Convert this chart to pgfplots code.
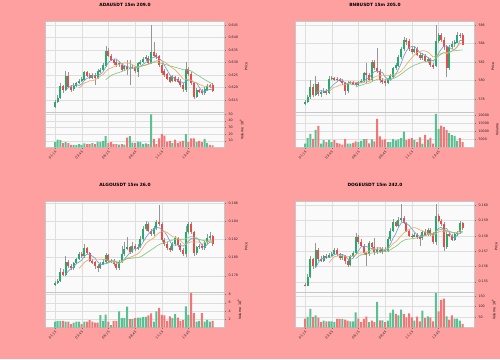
\documentclass[border=0pt]{standalone}
\usepackage{fontspec}
\setmainfont{DejaVu Sans}
\usepackage{pgfplots}
\pgfplotsset{compat=1.18}
\usepackage{pgfplotstable}

\definecolor{bgc}{RGB}{255,160,160}
\definecolor{axbg}{RGB}{250,250,250}
\definecolor{gridc}{RGB}{222,222,222}
\definecolor{upc}{RGB}{38,170,110}
\definecolor{dnc}{RGB}{239,72,72}
\definecolor{wickc}{RGB}{150,150,150}
\definecolor{maA}{RGB}{110,160,210}
\definecolor{maB}{RGB}{240,170,100}
\definecolor{maC}{RGB}{130,200,130}

\pgfplotstableread{
i o h l c v a b d
0 0.6123 0.6150 0.6119 0.6143 7.9 nan nan nan
1 0.6143 0.6170 0.6139 0.6157 11.9 nan nan nan
2 0.6157 0.6219 0.6153 0.6206 10.9 nan nan nan
3 0.6206 0.6210 0.6179 0.6190 6.4 nan nan nan
4 0.6190 0.6267 0.6187 0.6246 7.9 0.6188 nan nan
5 0.6246 0.6263 0.6197 0.6201 6.4 0.6200 nan nan
6 0.6201 0.6210 0.6183 0.6190 4.0 0.6207 nan nan
7 0.6193 0.6217 0.6187 0.6206 4.0 0.6207 nan nan
8 0.6206 0.6223 0.6201 0.6217 4.0 0.6212 nan nan
9 0.6217 0.6233 0.6213 0.6226 5.0 0.6208 0.6198 nan
10 0.6226 0.6241 0.6222 0.6233 4.0 0.6214 0.6207 nan
11 0.6230 0.6267 0.6227 0.6263 6.0 0.6229 0.6218 nan
12 0.6263 0.6267 0.6241 0.6246 5.0 0.6237 0.6222 nan
13 0.6249 0.6257 0.6233 0.6238 5.0 0.6241 0.6227 nan
14 0.6238 0.6259 0.6235 0.6251 6.4 0.6246 0.6227 nan
15 0.6251 0.6259 0.6210 0.6237 5.0 0.6247 0.6231 nan
16 0.6237 0.6273 0.6233 0.6267 8.9 0.6248 0.6238 nan
17 0.6265 0.6278 0.6259 0.6271 7.9 0.6253 0.6245 nan
18 0.6270 0.6297 0.6265 0.6289 9.9 0.6263 0.6252 nan
19 0.6286 0.6366 0.6283 0.6347 16.8 0.6282 0.6264 0.6231
20 0.6347 0.6357 0.6321 0.6326 6.9 0.6300 0.6274 0.6240
21 0.6326 0.6334 0.6305 0.6310 7.9 0.6309 0.6278 0.6248
22 0.6310 0.6315 0.6291 0.6297 5.0 0.6314 0.6283 0.6253
23 0.6302 0.6310 0.6283 0.6289 5.0 0.6314 0.6288 0.6257
24 0.6289 0.6303 0.6283 0.6297 4.4 0.6304 0.6293 0.6260
25 0.6291 0.6297 0.6265 0.6271 5.0 0.6293 0.6296 0.6264
26 0.6273 0.6290 0.6267 0.6285 4.4 0.6288 0.6298 0.6268
27 0.6285 0.6310 0.6250 0.6273 14.8 0.6283 0.6298 0.6272
28 0.6273 0.6310 0.6210 0.6279 16.8 0.6281 0.6297 0.6275
29 0.6278 0.6289 0.6273 0.6283 7.4 0.6278 0.6291 0.6278
30 0.6281 0.6286 0.6257 0.6265 6.4 0.6277 0.6285 0.6279
31 0.6262 0.6302 0.6243 0.6297 8.9 0.6279 0.6283 0.6281
32 0.6294 0.6310 0.6289 0.6303 7.9 0.6285 0.6284 0.6284
33 0.6301 0.6323 0.6297 0.6315 5.0 0.6293 0.6287 0.6288
34 0.6313 0.6330 0.6307 0.6321 6.0 0.6300 0.6289 0.6291
35 0.6318 0.6326 0.6294 0.6299 5.0 0.6307 0.6292 0.6294
36 0.6297 0.6450 0.6294 0.6342 49.4 0.6316 0.6298 0.6298
37 0.6342 0.6383 0.6321 0.6326 12.8 0.6321 0.6303 0.6301
38 0.6329 0.6337 0.6313 0.6321 5.0 0.6322 0.6307 0.6302
39 0.6326 0.6331 0.6283 0.6290 13.8 0.6316 0.6308 0.6299
40 0.6290 0.6297 0.6250 0.6257 19.8 0.6307 0.6307 0.6296
41 0.6267 0.6275 0.6243 0.6249 17.8 0.6288 0.6302 0.6293
42 0.6254 0.6259 0.6230 0.6235 8.9 0.6270 0.6295 0.6290
43 0.6241 0.6246 0.6217 0.6222 9.9 0.6251 0.6286 0.6286
44 0.6227 0.6249 0.6222 0.6241 6.9 0.6241 0.6278 0.6284
45 0.6241 0.6246 0.6222 0.6227 11.9 0.6235 0.6271 0.6281
46 0.6235 0.6241 0.6217 0.6222 6.4 0.6229 0.6259 0.6278
47 0.6227 0.6235 0.6203 0.6209 8.9 0.6224 0.6247 0.6275
48 0.6209 0.6217 0.6183 0.6193 9.9 0.6218 0.6234 0.6271
49 0.6190 0.6303 0.6183 0.6273 19.8 0.6225 0.6233 0.6270
50 0.6273 0.6283 0.6246 0.6254 7.9 0.6230 0.6232 0.6270
51 0.6254 0.6263 0.6209 0.6217 13.8 0.6229 0.6229 0.6266
52 0.6217 0.6223 0.6153 0.6163 13.8 0.6220 0.6222 0.6259
53 0.6163 0.6198 0.6158 0.6190 7.9 0.6219 0.6219 0.6252
54 0.6190 0.6195 0.6177 0.6183 9.9 0.6201 0.6213 0.6246
55 0.6186 0.6193 0.6169 0.6177 7.9 0.6186 0.6208 0.6239
56 0.6177 0.6201 0.6171 0.6193 12.8 0.6181 0.6205 0.6232
57 0.6190 0.6214 0.6187 0.6206 6.4 0.6190 0.6205 0.6226
58 0.6209 0.6214 0.6198 0.6203 4.0 0.6192 0.6206 0.6220
59 0.6209 0.6217 0.6182 0.6187 3.0 0.6193 0.6197 0.6215
}\adadata

\pgfplotstableread{
i o h l c v a b d
0 577.46 577.89 577.32 577.71 2360 nan nan nan
1 577.71 578.43 577.60 578.18 5890 nan nan nan
2 578.18 580.05 578.04 579.26 8560 nan nan nan
3 579.26 579.62 578.18 578.43 5460 nan nan nan
4 578.43 580.49 578.32 579.62 11040 578.64 nan nan
5 579.62 579.87 578.32 578.54 13500 578.81 nan nan
6 578.54 578.97 578.18 578.72 2360 578.92 nan nan
7 578.72 579.15 578.61 578.90 4650 578.84 nan nan
8 578.90 579.05 578.47 578.68 3400 578.89 nan nan
9 578.68 580.49 578.54 580.20 4840 579.01 578.83 nan
10 580.20 580.49 580.05 580.27 3400 579.35 579.08 nan
11 580.27 580.41 579.98 580.13 4650 579.64 579.28 nan
12 580.16 580.34 579.91 580.09 2790 579.87 579.36 nan
13 580.13 580.27 579.84 579.98 2360 580.13 579.51 nan
14 579.98 580.13 579.55 579.69 1740 580.03 579.52 nan
15 579.69 579.84 578.43 578.83 5270 579.74 579.55 nan
16 578.83 579.91 578.68 579.77 2360 579.67 579.65 nan
17 579.77 579.98 579.62 579.84 2360 579.62 579.75 nan
18 579.84 579.95 579.55 579.69 2790 579.56 579.85 nan
19 579.73 579.87 579.41 579.55 3780 579.54 579.78 579.30
20 579.55 579.98 579.41 579.84 3400 579.74 579.74 579.41
21 579.84 580.13 579.69 579.98 4220 579.78 579.73 579.50
22 579.98 580.95 579.87 580.77 5270 579.97 579.79 579.58
23 580.77 581.86 579.69 580.63 5270 580.16 579.86 579.69
24 580.63 580.77 579.91 580.05 2580 580.26 579.90 579.71
25 580.05 582.22 579.91 582.04 5020 580.70 580.22 579.88
26 582.04 582.22 581.14 581.32 3780 580.96 580.37 580.01
27 581.32 583.48 580.85 581.06 17860 581.02 580.49 580.12
28 581.06 581.21 579.77 580.05 6880 580.90 580.53 580.19
29 580.05 580.23 579.62 579.87 4840 580.87 580.56 580.17
30 579.91 580.13 579.41 579.69 5020 580.40 580.55 580.14
31 579.77 580.27 579.62 580.13 3400 580.16 580.56 580.14
32 580.13 580.70 579.98 580.49 3400 580.05 580.53 580.16
33 580.41 581.50 580.23 581.32 5270 580.30 580.60 580.23
34 581.32 581.86 581.14 581.64 4400 580.65 580.76 580.33
35 581.57 582.76 581.42 582.50 5020 581.21 580.81 580.51
36 582.50 583.66 582.36 583.37 5890 581.86 581.01 580.69
37 583.37 584.67 583.23 584.38 10000 582.64 581.34 580.92
38 584.38 584.56 583.84 584.20 4650 583.22 581.76 581.14
39 584.23 584.45 583.23 583.37 5460 583.56 582.11 581.34
40 583.37 583.59 582.86 583.08 5890 583.68 582.45 581.50
41 583.08 583.66 582.94 583.44 4650 583.69 582.78 581.67
42 583.44 583.59 582.65 582.79 3400 583.38 583.01 581.77
43 582.79 583.01 582.22 582.40 6260 583.02 583.12 581.86
44 582.40 582.94 582.22 582.72 2360 582.89 583.23 581.99
45 582.68 582.86 582.00 582.14 7940 582.70 583.19 582.00
46 582.14 582.58 581.86 582.36 4650 582.48 583.09 582.05
47 582.29 582.43 581.50 581.71 6060 582.27 582.82 582.08
48 581.71 581.93 581.28 581.50 2360 582.09 582.55 582.15
49 581.57 586.00 581.42 584.31 20960 582.40 582.64 582.38
50 584.31 585.10 584.02 584.88 11660 582.95 582.83 582.64
51 584.88 585.17 584.20 584.38 13700 583.36 582.92 582.85
52 584.38 584.67 583.30 583.66 12900 583.74 583.01 583.01
53 583.66 583.84 580.41 581.32 10850 583.71 582.90 583.01
54 581.32 583.80 581.14 583.66 9180 583.58 582.99 583.11
55 583.66 584.23 583.44 583.98 7750 583.40 583.17 583.18
56 583.95 584.38 583.66 584.13 7320 583.35 583.35 583.22
57 584.09 585.24 584.02 584.95 4220 583.61 583.68 583.25
58 584.95 585.17 584.56 584.81 5890 584.31 584.01 583.28
59 584.88 585.17 583.80 583.87 3400 584.35 583.96 583.30
}\bnbdata

\pgfplotstableread{
i o h l c v a b d
0 0.17704 0.17745 0.17689 0.17715 1.43 nan nan nan
1 0.17715 0.17763 0.17704 0.17745 1.6 nan nan nan
2 0.17745 0.17881 0.17734 0.17844 1.6 nan nan nan
3 0.17844 0.17874 0.17792 0.17807 1.6 nan nan nan
4 0.17807 0.18015 0.17792 0.17955 1.43 0.17813 nan nan
5 0.17955 0.17969 0.17888 0.17903 1.43 0.17851 nan nan
6 0.17903 0.17925 0.17859 0.17881 0.79 0.17878 nan nan
7 0.17881 0.17955 0.17866 0.17940 1.19 0.17897 nan nan
8 0.17940 0.17999 0.17925 0.17984 1.43 0.17933 nan nan
9 0.17984 0.18066 0.17969 0.18040 1.43 0.17950 0.17881 nan
10 0.18040 0.18059 0.17999 0.18015 0.79 0.17972 0.17911 nan
11 0.18015 0.18146 0.17999 0.18103 1.43 0.18016 0.17947 nan
12 0.18103 0.18118 0.18036 0.18051 1.43 0.18038 0.17968 nan
13 0.18051 0.18066 0.17947 0.17966 1.78 0.18034 0.17983 nan
14 0.17966 0.17984 0.17925 0.17947 1.43 0.18016 0.17983 nan
15 0.17947 0.17962 0.17874 0.17903 1.19 0.17994 0.17983 nan
16 0.17903 0.17925 0.17837 0.17888 1.19 0.17951 0.17983 nan
17 0.17888 0.17947 0.17874 0.17929 3.0 0.17927 0.17982 nan
18 0.17929 0.17969 0.17918 0.17947 1.6 0.17923 0.17979 nan
19 0.17947 0.18051 0.17933 0.18028 3.1 0.17939 0.17978 0.17929
20 0.18028 0.18043 0.17940 0.17958 1.4 0.17950 0.17972 0.17942
21 0.17958 0.17984 0.17940 0.17966 0.6 0.17966 0.17958 0.17953
22 0.17966 0.17984 0.17910 0.17929 1.6 0.17966 0.17946 0.17957
23 0.17929 0.17947 0.17859 0.17881 1.6 0.17952 0.17938 0.17961
24 0.17881 0.17969 0.17866 0.17955 3.9 0.17938 0.17938 0.17961
25 0.17955 0.18132 0.17940 0.18040 2.26 0.17955 0.17952 0.17967
26 0.18040 0.18169 0.18021 0.18095 2.26 0.17981 0.17973 0.17978
27 0.18095 0.18224 0.18081 0.18114 5.06 0.18017 0.17991 0.17987
28 0.18114 0.18132 0.18036 0.18066 2.02 0.18053 0.18003 0.17991
29 0.18066 0.18169 0.18051 0.18132 2.1 0.18089 0.18013 0.17995
30 0.18132 0.18146 0.18077 0.18095 2.26 0.18100 0.18027 0.17999
31 0.18095 0.18146 0.18081 0.18114 2.4 0.18104 0.18042 0.18000
32 0.18114 0.18242 0.18103 0.18205 2.4 0.18122 0.18069 0.18008
33 0.18205 0.18353 0.18187 0.18316 2.59 0.18172 0.18113 0.18025
34 0.18316 0.18408 0.18298 0.18371 2.59 0.18220 0.18154 0.18046
35 0.18371 0.18390 0.18279 0.18298 2.92 0.18261 0.18180 0.18066
36 0.18298 0.18316 0.18242 0.18261 3.41 0.18290 0.18197 0.18085
37 0.18261 0.18353 0.18242 0.18323 1.43 0.18314 0.18218 0.18104
38 0.18323 0.18419 0.18309 0.18390 3.9 0.18329 0.18250 0.18127
39 0.18390 0.18581 0.18353 0.18371 4.73 0.18329 0.18274 0.18144
40 0.18371 0.18390 0.18176 0.18198 3.09 0.18309 0.18285 0.18156
41 0.18198 0.18213 0.18132 0.18150 2.92 0.18286 0.18288 0.18165
42 0.18150 0.18169 0.18081 0.18103 1.6 0.18242 0.18278 0.18174
43 0.18103 0.18132 0.18066 0.18088 2.67 0.18182 0.18255 0.18184
44 0.18088 0.18169 0.18074 0.18150 2.26 0.18137 0.18233 0.18194
45 0.18150 0.18242 0.18132 0.18213 3.26 0.18140 0.18225 0.18202
46 0.18213 0.18228 0.18118 0.18139 2.4 0.18138 0.18212 0.18205
47 0.18139 0.18161 0.18066 0.18088 1.6 0.18135 0.18189 0.18203
48 0.18088 0.18103 0.18015 0.18040 1.78 0.18126 0.18154 0.18202
49 0.18040 0.18353 0.18003 0.18279 5.14 0.18152 0.18145 0.18209
50 0.18279 0.18397 0.18261 0.18371 3.09 0.18183 0.18162 0.18223
51 0.18371 0.18390 0.18261 0.18279 8.35 0.18211 0.18175 0.18232
52 0.18279 0.18298 0.18021 0.18051 3.5 0.18204 0.18170 0.18224
53 0.18051 0.18132 0.18028 0.18114 1.43 0.18219 0.18172 0.18214
54 0.18114 0.18154 0.18095 0.18132 1.6 0.18189 0.18170 0.18202
55 0.18132 0.18146 0.18081 0.18103 3.5 0.18135 0.18159 0.18192
56 0.18103 0.18187 0.18088 0.18169 1.43 0.18114 0.18162 0.18187
57 0.18169 0.18261 0.18154 0.18213 1.84 0.18146 0.18175 0.18182
58 0.18213 0.18279 0.18198 0.18235 1.43 0.18171 0.18194 0.18174
59 0.18235 0.18250 0.18132 0.18150 1.6 0.18175 0.18181 0.18163
}\algodata

\pgfplotstableread{
i o h l c v a b d
0 0.15478 0.15491 0.15470 0.15474 41.9 nan nan nan
1 0.15474 0.15550 0.15470 0.15528 50 nan nan nan
2 0.15528 0.15670 0.15522 0.15649 88 nan nan nan
3 0.15649 0.15657 0.15583 0.15601 50 nan nan nan
4 0.15601 0.15753 0.15592 0.15710 57.6 0.15592 nan nan
5 0.15710 0.15718 0.15638 0.15649 46.7 0.15627 nan nan
6 0.15649 0.15666 0.15627 0.15638 26 0.15649 nan nan
7 0.15638 0.15675 0.15631 0.15666 32.4 0.15653 nan nan
8 0.15666 0.15681 0.15649 0.15660 29 0.15664 nan nan
9 0.15660 0.15688 0.15653 0.15675 29 0.15657 0.15625 nan
10 0.15670 0.15692 0.15666 0.15681 29 0.15664 0.15646 nan
11 0.15681 0.15723 0.15675 0.15710 26 0.15678 0.15664 nan
12 0.15710 0.15718 0.15670 0.15679 40.5 0.15681 0.15667 nan
13 0.15679 0.15688 0.15644 0.15653 40.5 0.15680 0.15672 nan
14 0.15653 0.15679 0.15644 0.15666 40.5 0.15678 0.15668 nan
15 0.15666 0.15675 0.15616 0.15638 37.1 0.15669 0.15667 nan
16 0.15638 0.15649 0.15594 0.15609 32.4 0.15649 0.15664 nan
17 0.15609 0.15675 0.15601 0.15666 29 0.15646 0.15664 nan
18 0.15666 0.15703 0.15657 0.15688 29 0.15653 0.15667 nan
19 0.15688 0.15819 0.15679 0.15790 71.9 0.15678 0.15678 0.15651
20 0.15790 0.15806 0.15747 0.15758 41.9 0.15702 0.15686 0.15666
21 0.15758 0.15780 0.15725 0.15736 26 0.15728 0.15688 0.15676
22 0.15736 0.15747 0.15675 0.15688 40.5 0.15732 0.15689 0.15678
23 0.15688 0.15697 0.15605 0.15681 51.4 0.15731 0.15692 0.15682
24 0.15681 0.15769 0.15670 0.15753 26 0.15723 0.15701 0.15684
25 0.15753 0.15762 0.15714 0.15725 32.4 0.15717 0.15710 0.15688
26 0.15725 0.15784 0.15675 0.15692 26 0.15708 0.15718 0.15691
27 0.15692 0.15725 0.15681 0.15710 121.4 0.15712 0.15722 0.15693
28 0.15710 0.15725 0.15688 0.15697 33.8 0.15715 0.15723 0.15695
29 0.15697 0.15725 0.15681 0.15714 33.8 0.15708 0.15715 0.15697
30 0.15714 0.15725 0.15692 0.15703 26 0.15703 0.15710 0.15698
31 0.15703 0.15790 0.15697 0.15780 32.4 0.15721 0.15714 0.15701
32 0.15780 0.15849 0.15769 0.15834 69 0.15746 0.15729 0.15709
33 0.15834 0.15911 0.15823 0.15893 84.8 0.15785 0.15750 0.15721
34 0.15893 0.15900 0.15856 0.15867 64.3 0.15815 0.15761 0.15731
35 0.15867 0.15921 0.15856 0.15906 57.6 0.15856 0.15780 0.15745
36 0.15906 0.16009 0.15893 0.15915 84.8 0.15883 0.15802 0.15760
37 0.15915 0.15928 0.15876 0.15884 64.3 0.15893 0.15819 0.15771
38 0.15884 0.15893 0.15823 0.15834 48 0.15881 0.15833 0.15778
39 0.15834 0.15845 0.15790 0.15801 67.1 0.15868 0.15842 0.15779
40 0.15801 0.15815 0.15788 0.15797 48 0.15846 0.15851 0.15781
41 0.15797 0.15819 0.15790 0.15806 32.4 0.15825 0.15854 0.15784
42 0.15806 0.15819 0.15780 0.15790 51.4 0.15806 0.15849 0.15789
43 0.15790 0.15806 0.15736 0.15784 29 0.15796 0.15839 0.15794
44 0.15784 0.15834 0.15775 0.15823 80 0.15800 0.15834 0.15798
45 0.15823 0.15845 0.15797 0.15806 45.2 0.15802 0.15824 0.15802
46 0.15806 0.15854 0.15797 0.15841 52.9 0.15809 0.15817 0.15809
47 0.15841 0.15849 0.15801 0.15812 48 0.15813 0.15810 0.15814
48 0.15812 0.15823 0.15747 0.15758 29 0.15808 0.15802 0.15817
49 0.15758 0.16009 0.15740 0.15932 162.4 0.15830 0.15815 0.15828
50 0.15932 0.15943 0.15889 0.15900 76.7 0.15849 0.15825 0.15838
51 0.15900 0.15911 0.15867 0.15878 131 0.15856 0.15832 0.15843
52 0.15878 0.15893 0.15703 0.15725 137 0.15839 0.15826 0.15838
53 0.15725 0.15823 0.15714 0.15812 52.9 0.15849 0.15829 0.15834
54 0.15812 0.15823 0.15790 0.15801 37.1 0.15823 0.15827 0.15830
55 0.15801 0.15812 0.15767 0.15775 57.6 0.15798 0.15823 0.15824
56 0.15775 0.15823 0.15767 0.15812 41.9 0.15785 0.15821 0.15819
57 0.15812 0.15834 0.15801 0.15823 41.9 0.15805 0.15822 0.15816
58 0.15823 0.15900 0.15812 0.15884 32.4 0.15819 0.15834 0.15818
59 0.15884 0.15893 0.15841 0.15849 16.7 0.15829 0.15826 0.15821
}\dogedata

\pgfplotsset{
  base/.style={scale only axis, width=179bp, xmin=-3.75, xmax=63.3,
    axis background/.style={fill=axbg},
    xtick={0,10,20,30,40,50},
    grid=major, major grid style={draw=gridc, line width=0.4bp},
    axis line style={draw=black!22, line width=0.4bp},
    tick style={draw=black!55, line width=0.3bp}, major tick length=1.5bp, tick align=outside,
    ytick pos=right, yticklabel pos=right, xtick pos=bottom,
    tick label style={font=\fontsize{3.3}{4}\selectfont, text=black!85},
    label style={font=\fontsize{3.3}{4}\selectfont},
    /pgf/number format/assume math mode=true,
    scaled y ticks=false, scaled x ticks=false, unbounded coords=discard,
    yticklabel style={xshift=-0.5bp}},
  pricep/.style={base, height=91bp, xticklabels={}, ylabel={Price},
    yticklabel style={/pgf/number format/fixed, /pgf/number format/fixed zerofill, /pgf/number format/precision=#1}},
  volp/.style={base, height=35.5bp, ymin=0,
    xticklabels={01:15,03:45,06:15,08:45,11:15,13:45},
    xticklabel style={rotate=45, anchor=north east, inner sep=1bp},
    yticklabel style={/pgf/number format/fixed, /pgf/number format/1000 sep={}}},
  nomark/.style={only marks, mark=*, mark size=0pt, mark options={draw opacity=0, fill opacity=0}},
}

\newcommand{\candles}[1]{%
  \addplot[nomark, forget plot, error bars/.cd, y dir=plus, y explicit, error mark=none,
    error bar style={draw=wickc, line width=0.45bp}]
    table[x=i, y=l, y error expr=\thisrow{h}-\thisrow{l}] {#1};
  \addplot[nomark, forget plot, error bars/.cd, y dir=both, y explicit, error mark=none,
    error bar style={draw=upc, line width=2bp}]
    table[x expr={\thisrow{c}>=\thisrow{o} ? \thisrow{i} : nan}, y expr={(\thisrow{o}+\thisrow{c})/2},
      y error expr={abs(\thisrow{c}-\thisrow{o})/2}] {#1};
  \addplot[nomark, forget plot, error bars/.cd, y dir=both, y explicit, error mark=none,
    error bar style={draw=dnc, line width=2bp}]
    table[x expr={\thisrow{c}<\thisrow{o} ? \thisrow{i} : nan}, y expr={(\thisrow{o}+\thisrow{c})/2},
      y error expr={abs(\thisrow{c}-\thisrow{o})/2}] {#1};
  \addplot[maA, line width=0.65bp, no marks] table[x=i, y=a] {#1};
  \addplot[maB, line width=0.65bp, no marks] table[x=i, y=b] {#1};
  \addplot[maC, line width=0.65bp, no marks] table[x=i, y=d] {#1};
}
\newcommand{\volbars}[1]{%
  \addplot[ybar, bar width=0.75, bar shift=0pt, fill=upc!75, draw=none]
    table[x expr={\thisrow{c}>=\thisrow{o} ? \thisrow{i} : nan}, y=v] {#1};
  \addplot[ybar, bar width=0.75, bar shift=0pt, fill=dnc!75, draw=none]
    table[x expr={\thisrow{c}<\thisrow{o} ? \thisrow{i} : nan}, y=v] {#1};
}

\begin{document}
\begin{tikzpicture}[x=1bp,y=1bp]
\fill[bgc] (0,0) rectangle (500,359);

% ---------- ADA ----------
\node[font=\bfseries\fontsize{4.4}{5}\selectfont] at (125,354.5) {ADAUSDT 15m 209.0};
\begin{axis}[pricep=3, at={(45bp,247bp)}, anchor=south west,
  ymin=0.6102, ymax=0.6466, ytick={0.615,0.620,0.625,0.630,0.635,0.640,0.645}]
\candles{\adadata}
\end{axis}
\begin{axis}[volp, at={(45bp,211.5bp)}, anchor=south west,
  ymax=53, ytick={10,20,30,40,50}, ylabel={Volume~~10\textsuperscript{6}}]
\volbars{\adadata}
\end{axis}

% ---------- BNB ----------
\node[font=\bfseries\fontsize{4.4}{5}\selectfont] at (375,354.5) {BNBUSDT 15m 205.0};
\begin{axis}[pricep=0, at={(295bp,247bp)}, anchor=south west,
  ymin=576.6, ymax=586.43, ytick={578,580,582,584,586}]
\candles{\bnbdata}
\end{axis}
\begin{axis}[volp, at={(295bp,211.5bp)}, anchor=south west,
  ymax=22200, ytick={5000,10000,15000,20000}, ylabel={Volume}]
\volbars{\bnbdata}
\end{axis}

% ---------- ALGO ----------
\node[font=\bfseries\fontsize{4.4}{5}\selectfont] at (125,174.5) {ALGOUSDT 15m 26.0};
\begin{axis}[pricep=3, at={(45bp,67bp)}, anchor=south west,
  ymin=0.1762, ymax=0.18625, ytick={0.178,0.180,0.182,0.184,0.186}]
\candles{\algodata}
\end{axis}
\begin{axis}[volp, at={(45bp,31.5bp)}, anchor=south west,
  ymax=8.6, ytick={2,4,6,8}, ylabel={Volume~~10\textsuperscript{6}}]
\volbars{\algodata}
\end{axis}

% ---------- DOGE ----------
\node[font=\bfseries\fontsize{4.4}{5}\selectfont] at (375,174.5) {DOGEUSDT 15m 242.0};
\begin{axis}[pricep=3, at={(295bp,67bp)}, anchor=south west,
  ymin=0.15433, ymax=0.16028, ytick={0.155,0.156,0.157,0.158,0.159,0.160}]
\candles{\dogedata}
\end{axis}
\begin{axis}[volp, at={(295bp,31.5bp)}, anchor=south west,
  ymax=168, ytick={50,100,150}, ylabel={Volume~~10\textsuperscript{6}}]
\volbars{\dogedata}
\end{axis}

\pgfresetboundingbox
\useasboundingbox (0,0) rectangle (500,359);
\end{tikzpicture}
\end{document}
